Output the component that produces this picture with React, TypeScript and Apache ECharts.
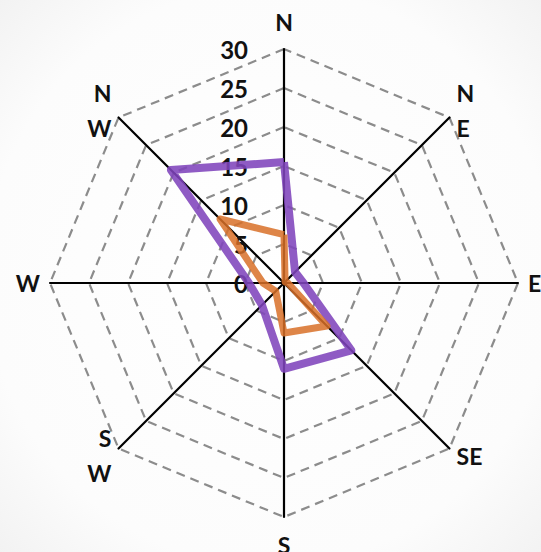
import React, { useEffect, useRef } from "react";
import * as echarts from "echarts";

const directions = ["N", "NW", "W", "SW", "S", "SE", "E", "NE"];
const directionLabels = ["N", "N\nW", "W", "S\nW", "S", "SE", "E", "N\nE"];
const purpleValues = [15.5, 20.5, 4.5, 4, 11, 12.2, 2.5, 2];
const orangeValues = [6.2, 11.6, 2.7, 1.5, 6.4, 7.8, 0.5, 0.2];
const axisMin = 0;
const axisMax = 30;
const tickStep = 5;

export default function App() {
  const ref = useRef<HTMLDivElement>(null);
  useEffect(() => {
    document.body.style.margin = "0";
    const chart = echarts.init(ref.current!, undefined, { renderer: "svg" });
    chart.setOption({
      animation: false,
      backgroundColor: {
        type: "radial",
        x: 0.5,
        y: 0.5,
        r: 0.75,
        colorStops: [
          { offset: 0, color: "#ffffff" },
          { offset: 0.7, color: "#fcfcfc" },
          { offset: 1, color: "#f0f0f0" },
        ],
      },
      radar: {
        center: [284, 283],
        radius: 234,
        startAngle: 90,
        shape: "polygon",
        splitNumber: (axisMax - axisMin) / tickStep,
        indicator: directions.map((d, i) => ({
          name: directionLabels[i],
          min: axisMin,
          max: axisMax,
          ...(i === 0
            ? {
                axisLabel: {
                  show: true,
                  fontSize: 24,
                  color: "#111",
                  fontFamily: "Lato",
                  fontWeight: "bold",
                  margin: 36,
                  formatter: (v: number) => String(v),
                },
              }
            : {}),
        })),
        axisName: {
          color: "#111",
          fontSize: 23,
          fontFamily: "Lato",
          fontWeight: "bold",
          lineHeight: 35,
        },
        nameGap: 10,
        axisLine: { lineStyle: { color: "#000", width: 2.2 } },
        axisTick: { show: false },
        axisLabel: { show: false },
        splitLine: {
          lineStyle: { color: "#8c8c8c", width: 2.2, type: [9, 6] },
        },
        splitArea: { show: false },
      },
      series: [
        {
          type: "radar",
          symbol: "none",
          data: [
            {
              value: purpleValues,
              name: "Purple",
              lineStyle: { color: "rgba(128,68,188,0.88)", width: 8 },
            },
            {
              value: orangeValues,
              name: "Orange",
              lineStyle: { color: "rgba(216,112,40,0.85)", width: 7 },
            },
          ],
        },
      ],
    });
    return () => chart.dispose();
  }, []);
  return <div ref={ref} style={{ width: 541, height: 552 }} />;
}
